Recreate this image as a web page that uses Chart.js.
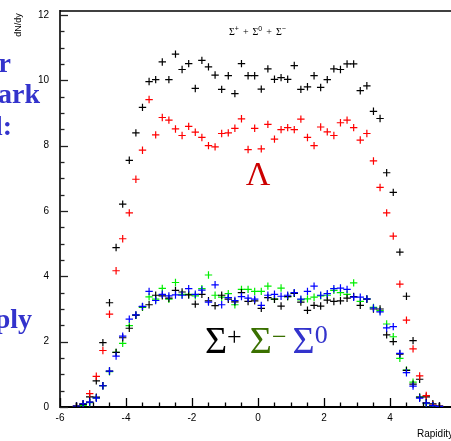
<!DOCTYPE html>
<html>
<head>
<meta charset="utf-8">
<script src="https://cdn.jsdelivr.net/npm/chart.js@4.4.0/dist/chart.umd.min.js"></script>
<style>
  html, body { margin: 0; padding: 0; background: #fff; }
  canvas { display: block; }
</style>
</head>
<body>
<canvas id="rapidity-chart" width="451" height="441"></canvas>
<script>
// bin centres (rapidity)
const rapidity = [
  -5.5, -5.3, -5.1, -4.9, -4.7, -4.5, -4.3, -4.1, -3.9, -3.7, -3.5, -3.3, -3.1, -2.9,
  -2.7, -2.5, -2.3, -2.1, -1.9, -1.7, -1.5, -1.3, -1.1, -0.9, -0.7, -0.5, -0.3, -0.1,
  0.1, 0.3, 0.5, 0.7, 0.9, 1.1, 1.3, 1.5, 1.7, 1.9, 2.1, 2.3, 2.5, 2.7,
  2.9, 3.1, 3.3, 3.5, 3.7, 3.9, 4.1, 4.3, 4.5, 4.7, 4.9, 5.1, 5.3, 5.5
];

// Sigma+ + Sigma0 + Sigma- (black, top)
const sigmaSum = [
  0.03, 0.10, 0.31, 0.80, 1.97, 3.19, 4.88, 6.21, 7.55, 8.39, 9.17, 9.96, 10.02, 10.56,
  10.02, 10.80, 10.33, 10.51, 9.75, 10.61, 10.41, 10.16, 9.72, 10.14, 9.59, 10.51, 10.14, 10.14,
  9.73, 10.35, 10.03, 10.08, 10.03, 10.45, 9.72, 9.80, 10.14, 9.78, 10.02, 10.35, 10.33, 10.50,
  10.50, 9.68, 9.83, 9.05, 8.83, 7.17, 6.57, 4.74, 3.39, 2.03, 0.85, 0.31, 0.10, 0.03
];

// Lambda (red)
const lambda = [
  0.02, 0.07, 0.41, 0.94, 1.73, 2.84, 4.17, 5.15, 5.94, 6.97, 7.86, 9.41, 8.33, 8.86,
  8.78, 8.51, 8.31, 8.59, 8.41, 8.25, 8.00, 7.96, 8.37, 8.39, 8.53, 8.82, 7.88, 8.53,
  7.90, 8.65, 8.20, 8.49, 8.55, 8.49, 8.81, 8.25, 8.00, 8.57, 8.42, 8.31, 8.70, 8.78,
  8.55, 8.17, 8.37, 7.53, 6.72, 5.94, 5.23, 3.76, 2.66, 1.78, 0.95, 0.35, 0.06, 0.02
];

// Sigma+ (black, bottom)
const sigmaPlus = [
  0.02, 0.08, 0.15, 0.30, 0.65, 1.10, 1.67, 2.12, 2.41, 2.81, 3.07, 3.13, 3.42, 3.40,
  3.33, 3.57, 3.52, 3.43, 3.15, 3.45, 3.25, 3.10, 3.42, 3.30, 3.22, 3.50, 3.23, 3.25,
  3.02, 3.35, 3.30, 3.09, 3.38, 3.48, 3.21, 2.96, 3.11, 3.09, 3.27, 3.23, 3.25, 3.33,
  3.38, 3.11, 3.30, 3.00, 3.00, 2.21, 2.00, 1.62, 1.12, 0.70, 0.30, 0.13, 0.05, 0.02
];

// Sigma- (green)
const sigmaMinus = [
  0.01, 0.05, 0.13, 0.28, 0.65, 1.08, 1.67, 1.95, 2.49, 2.81, 3.05, 3.37, 3.30, 3.63,
  3.30, 3.81, 3.45, 3.45, 3.40, 3.62, 4.04, 3.42, 3.36, 3.47, 3.13, 3.60, 3.60, 3.54,
  3.54, 3.70, 3.30, 3.64, 3.38, 3.48, 3.28, 3.31, 3.36, 3.40, 3.42, 3.57, 3.50, 3.45,
  3.80, 3.23, 3.31, 3.05, 2.95, 2.54, 2.15, 1.49, 1.13, 0.76, 0.30, 0.10, 0.04, 0.01
];

// Sigma0 (blue)
const sigma0 = [
  0.03, 0.10, 0.15, 0.27, 0.65, 1.10, 1.56, 2.17, 2.69, 2.82, 3.08, 3.54, 3.26, 3.45,
  3.40, 3.43, 3.42, 3.62, 3.45, 3.58, 3.21, 3.74, 3.13, 3.35, 3.26, 3.38, 3.33, 3.30,
  3.11, 3.42, 3.45, 3.39, 3.42, 3.50, 3.30, 3.54, 3.70, 3.42, 3.47, 3.62, 3.64, 3.60,
  3.36, 3.36, 3.31, 3.03, 2.91, 2.42, 2.46, 1.64, 1.05, 0.64, 0.27, 0.12, 0.04, 0.02
];

const xTicks = [-6, -4, -2, 0, 2, 4];
const yTicks = [0, 2, 4, 6, 8, 10, 12];

function toPoints(values) {
  return rapidity.map((x, i) => ({ x: x, y: values[i] }));
}

function crossSeries(values, color, order) {
  return {
    data: toPoints(values),
    pointStyle: "cross",
    pointRadius: 3.7,
    pointHoverRadius: 3.7,
    borderColor: color,
    backgroundColor: color,
    pointBorderWidth: 1.2,
    showLine: false,
    order: order,
  };
}

// draw text pieces one after the other (for superscripts)
function drawPieces(ctx, x, baseline, pieces) {
  pieces.forEach((p) => {
    ctx.font = p.font;
    ctx.fillStyle = p.color;
    ctx.fillText(p.text, x + (p.dx || 0), baseline - (p.rise || 0));
    x += (p.dx || 0) + ctx.measureText(p.text).width + (p.gap || 0);
  });
}

const overlay = {
  id: "overlay",
  afterDraw(chart) {
    const ctx = chart.ctx;
    const area = chart.chartArea;
    const xs = chart.scales.x;
    const ys = chart.scales.y;
    ctx.save();

    // top frame line
    ctx.strokeStyle = "#000";
    ctx.lineWidth = 1.6;
    ctx.beginPath();
    ctx.moveTo(area.left, area.top);
    ctx.lineTo(area.right, area.top);
    ctx.stroke();

    // inward ticks, major every 2, minor every 0.5
    ctx.lineWidth = 1.3;
    ctx.strokeStyle = "#222";
    for (let v = 0; v <= 12; v += 0.5) {
      const py = Math.round(ys.getPixelForValue(v)) + 0.5;
      const len = v % 2 === 0 ? 8 : 4.5;
      ctx.beginPath();
      ctx.moveTo(area.left, py);
      ctx.lineTo(area.left + len, py);
      ctx.stroke();
    }
    ctx.strokeStyle = "#000";
    for (let v = -6; v <= 5.5; v += 0.5) {
      const px = Math.round(xs.getPixelForValue(v)) + 0.5;
      const len = v % 2 === 0 ? 9 : 4.5;
      ctx.beginPath();
      ctx.moveTo(px, area.bottom);
      ctx.lineTo(px, area.bottom - len);
      ctx.stroke();
    }

    // axis titles
    ctx.fillStyle = "#000";
    ctx.font = "10px 'Liberation Sans', Arial, sans-serif";
    ctx.textAlign = "left";
    ctx.textBaseline = "middle";
    ctx.fillText("Rapidity", 417, 434);
    ctx.save();
    ctx.translate(19, 25);
    ctx.rotate(-Math.PI / 2);
    ctx.textAlign = "center";
    ctx.font = "9px 'Liberation Sans', Arial, sans-serif";
    ctx.fillText("dN/dy", 0, 0);
    ctx.restore();

    ctx.textBaseline = "alphabetic";
    ctx.textAlign = "left";

    // small header label
    const sf = "10px 'Liberation Serif', serif";
    const sup = "7px 'Liberation Sans', sans-serif";
    drawPieces(ctx, 229, 35, [
      { text: "\u03A3", font: sf, color: "#000" },
      { text: "+", font: sup, color: "#000", rise: 4, gap: 4 },
      { text: "+", font: sf, color: "#000", gap: 4 },
      { text: "\u03A3", font: sf, color: "#000" },
      { text: "0", font: sup, color: "#000", rise: 4, gap: 4 },
      { text: "+", font: sf, color: "#000", gap: 4 },
      { text: "\u03A3", font: sf, color: "#000" },
      { text: "\u2212", font: sup, color: "#000", rise: 4 },
    ]);

    // Lambda
    ctx.textAlign = "center";
    ctx.font = "34px 'Liberation Serif', 'DejaVu Serif', serif";
    ctx.fillStyle = "#cc0000";
    ctx.fillText("\u039B", 258, 185);

    // Sigma labels
    ctx.textAlign = "left";
    const big = "38px 'Liberation Serif', 'DejaVu Serif', serif";
    const mid = "26px 'Liberation Serif', 'DejaVu Serif', serif";
    drawPieces(ctx, 205, 353, [
      { text: "\u03A3", font: big, color: "#000" },
      { text: "+", font: mid, color: "#000", rise: 8, gap: 8 },
      { text: "\u03A3", font: big, color: "#3a7000" },
      { text: "\u2212", font: mid, color: "#3a7000", rise: 8, gap: 6 },
      { text: "\u03A3", font: big, color: "#3333cc" },
      { text: "0", font: mid, color: "#3333cc", rise: 10 },
    ]);

    // cut-off slide text on the left
    ctx.textAlign = "right";
    ctx.font = "bold 28px 'Liberation Serif', 'DejaVu Serif', serif";
    ctx.fillStyle = "#3333cc";
    ctx.fillText("r", 11, 72);
    ctx.fillText("ark", 40, 103);
    ctx.fillText("l:", 12, 135);
    ctx.fillText("ply", 32, 328);

    ctx.restore();
  },
};

const tickFont = { family: "'Liberation Sans', Arial, sans-serif", size: 10 };

new Chart(document.getElementById("rapidity-chart").getContext("2d"), {
  type: "scatter",
  data: {
    datasets: [
      crossSeries(sigma0, "#0000ff", 1),
      crossSeries(sigmaPlus, "#000000", 2),
      crossSeries(sigmaMinus, "#00ee00", 3),
      crossSeries(lambda, "#ff0000", 4),
      crossSeries(sigmaSum, "#000000", 5),
    ],
  },
  options: {
    responsive: false,
    animation: false,
    layout: { autoPadding: false, padding: { top: 11, right: 0, left: 0, bottom: 0 } },
    plugins: {
      legend: { display: false },
      tooltip: { enabled: false },
    },
    scales: {
      x: {
        type: "linear",
        min: -6,
        max: 5.85,
        grid: { display: false, drawTicks: false },
        border: { display: true, color: "#000", width: 2 },
        ticks: {
          includeBounds: false,
          stepSize: 2,
          padding: 5,
          color: "#000",
          font: tickFont,
          maxRotation: 0,
          callback: (v) => (xTicks.includes(v) ? String(v) : ""),
        },
        afterFit: (scale) => {
          scale.height = 34;
          scale.paddingLeft = 0;
          scale.paddingRight = 0;
        },
      },
      y: {
        type: "linear",
        min: 0,
        max: 12.12,
        grid: { display: false, drawTicks: false },
        border: { display: true, color: "#333", width: 2 },
        ticks: {
          includeBounds: false,
          stepSize: 2,
          padding: 11,
          color: "#000",
          font: tickFont,
          callback: (v) => (yTicks.includes(v) ? String(v) : ""),
        },
        afterFit: (scale) => {
          scale.width = 60;
          scale.paddingTop = 0;
          scale.paddingBottom = 0;
        },
      },
    },
  },
  plugins: [overlay],
});
</script>
</body>
</html>
